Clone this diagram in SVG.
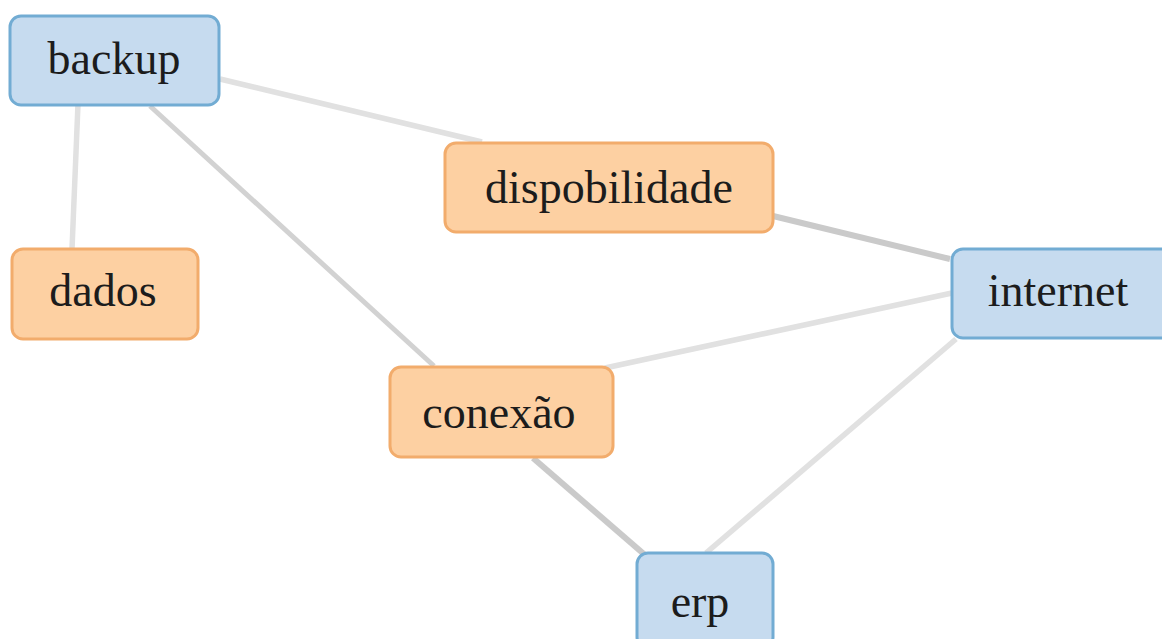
<svg xmlns="http://www.w3.org/2000/svg" width="1162" height="639" viewBox="0 0 1162 639">
  <defs>
    <style>
      .edge { fill: none; stroke-linecap: butt; }
      .e-light { stroke: #e1e1e1; stroke-width: 5.5; }
      .e-mid { stroke: #d2d2d2; stroke-width: 5; }
      .e-dark { stroke: #cacaca; stroke-width: 6; }
      .node-blue rect { fill: #c6dbef; stroke: #72acd3; stroke-width: 3; }
      .node-orange rect { fill: #fdd0a2; stroke: #f2ac6c; stroke-width: 3; }
      .label { font-size: 46px; fill: #1c1c1c; text-anchor: middle; }
    </style>
  </defs>
  <rect width="1162" height="639" fill="#ffffff"/>

  <!-- connectors -->
  <g id="connectors">
    <line class="edge e-light" x1="78" y1="104" x2="72" y2="249"/>
    <line class="edge e-light" x1="220" y1="79" x2="482" y2="142"/>
    <line class="edge e-mid" x1="150" y1="106" x2="434" y2="366"/>
    <line class="edge e-dark" x1="773" y1="216" x2="950" y2="259"/>
    <line class="edge e-light" x1="605" y1="368" x2="952" y2="293"/>
    <line class="edge e-dark" x1="533" y1="458" x2="645" y2="555"/>
    <line class="edge e-light" x1="956" y1="339" x2="706" y2="553"/>
  </g>

  <!-- nodes -->
  <g font-family="'Liberation Serif', 'DejaVu Serif', serif">
    <g id="node-backup" class="node-blue">
      <rect x="10" y="16" width="209" height="89" rx="11"/>
      <text class="label" x="114" y="74">backup</text>
    </g>
    <g id="node-dispobilidade" class="node-orange">
      <rect x="445" y="143" width="328" height="89" rx="11"/>
      <text class="label" x="609" y="203">dispobilidade</text>
    </g>
    <g id="node-dados" class="node-orange">
      <rect x="12" y="249" width="186" height="90" rx="11"/>
      <text class="label" x="103" y="306">dados</text>
    </g>
    <g id="node-internet" class="node-blue">
      <rect x="952" y="249" width="220" height="89" rx="11"/>
      <text class="label" x="1058" y="306">internet</text>
    </g>
    <g id="node-conexao" class="node-orange">
      <rect x="390" y="367" width="223" height="90" rx="11"/>
      <text class="label" x="499" y="428">conexão</text>
    </g>
    <g id="node-erp" class="node-blue">
      <rect x="637" y="553" width="136" height="95" rx="11"/>
      <text class="label" x="700" y="617">erp</text>
    </g>
  </g>
</svg>
